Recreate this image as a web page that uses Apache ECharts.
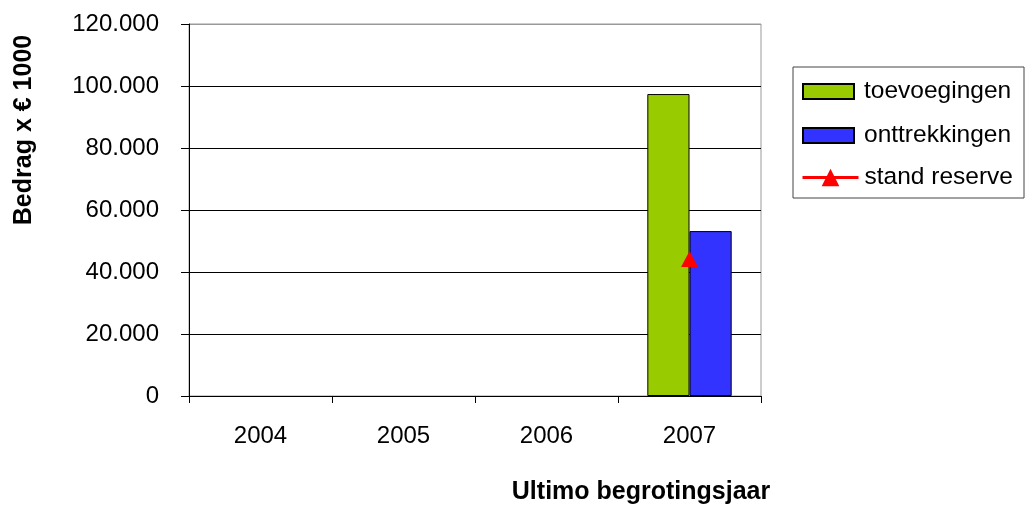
<!DOCTYPE html>
<html>
<head>
<meta charset="utf-8">
<script src="https://cdn.jsdelivr.net/npm/echarts@6/dist/echarts.min.js"></script>
<style>
  html, body { margin: 0; padding: 0; background: #fff; }
  #chart { width: 1029px; height: 505px; }
</style>
</head>
<body>
<div id="chart"></div>
<script>
// Reserve-verloop per begrotingsjaar (bedragen x € 1000)
const years = ['2004', '2005', '2006', '2007'];
const toevoegingen = [null, null, null, 97400];
const onttrekkingen = [null, null, null, 53200];
const standReserve = [null, null, null, 44200];
const yTicks = [0, 20000, 40000, 60000, 80000, 100000, 120000];

const FONT = 'Liberation Sans';

function formatThousands(v) {
  return String(v).replace(/\B(?=(\d{3})+(?!\d))/g, '.');
}

const legendText = { fontFamily: FONT, fontSize: 24.5, color: '#000', lineHeight: 24, padding: [0, 0, 0, 5] };

const chart = echarts.init(document.getElementById('chart'));
chart.setOption({
  animation: false,
  backgroundColor: '#fff',
  textStyle: { fontFamily: FONT, color: '#000' },
  grid: {
    left: 189, right: 268, top: 24, bottom: 109,
    show: true, borderColor: '#999', borderWidth: 1, backgroundColor: 'transparent'
  },
  xAxis: {
    type: 'category',
    data: years,
    boundaryGap: true,
    axisLine: { lineStyle: { color: '#000', width: 1 } },
    axisTick: { show: true, inside: false, length: 7, alignWithLabel: false, lineStyle: { color: '#000' } },
    axisLabel: { color: '#000', fontFamily: FONT, fontSize: 24, margin: 28 },
    splitLine: { show: false }
  },
  yAxis: {
    type: 'value',
    min: yTicks[0],
    max: yTicks[yTicks.length - 1],
    interval: yTicks[1] - yTicks[0],
    axisLine: { show: true, lineStyle: { color: '#000', width: 1 } },
    axisTick: { show: true, inside: false, length: 8, lineStyle: { color: '#000' } },
    axisLabel: { color: '#000', fontFamily: FONT, fontSize: 24, margin: 30, formatter: formatThousands },
    splitLine: {
      show: true,
      lineStyle: { color: ['#000', '#000', '#000', '#000', '#000', '#000', '#999'], width: 1 }
    }
  },
  legend: [
    {
      orient: 'vertical',
      left: 802,
      top: 79,
      padding: 0,
      icon: 'rect',
      itemWidth: 51,
      itemHeight: 15,
      itemGap: 19,
      textStyle: legendText,
      data: ['toevoegingen', 'onttrekkingen']
    },
    {
      orient: 'vertical',
      left: 801,
      top: 165,
      padding: 0,
      itemWidth: 56,
      itemHeight: 22,
      textStyle: Object.assign({}, legendText, { padding: [0, 0, 0, 1] }),
      lineStyle: { width: 3 },
      data: ['stand reserve']
    }
  ],
  series: [
    {
      name: 'toevoegingen',
      type: 'bar',
      data: toevoegingen,
      barGap: '0%',
      barCategoryGap: '41%',
      itemStyle: { color: '#99CC00', borderColor: '#000', borderWidth: 1 }
    },
    {
      name: 'onttrekkingen',
      type: 'bar',
      data: onttrekkingen,
      itemStyle: { color: '#3333FF', borderColor: '#000', borderWidth: 1 }
    },
    {
      name: 'stand reserve',
      type: 'line',
      data: standReserve,
      symbol: 'triangle',
      symbolSize: [17, 16],
      showAllSymbol: true,
      lineStyle: { color: '#FF0000', width: 3 },
      itemStyle: { color: '#FF0000' },
      z: 5
    }
  ],
  graphic: [
    {
      type: 'rect',
      shape: { x: 793, y: 67, width: 231, height: 131 },
      style: { fill: 'none', stroke: '#444', lineWidth: 1 },
      z: -1
    },
    {
      type: 'text',
      x: 24, y: 130,
      rotation: Math.PI / 2,
      style: {
        text: 'Bedrag x € 1000',
        font: 'bold 25px "Liberation Sans"',
        fill: '#000',
        align: 'center',
        verticalAlign: 'middle'
      }
    },
    {
      type: 'text',
      x: 641, y: 492,
      style: {
        text: 'Ultimo begrotingsjaar',
        font: 'bold 25px "Liberation Sans"',
        fill: '#000',
        align: 'center',
        verticalAlign: 'middle'
      }
    }
  ]
});
</script>
</body>
</html>
